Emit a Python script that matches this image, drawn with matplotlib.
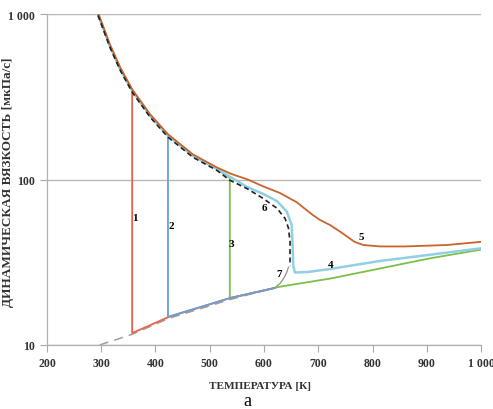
import matplotlib.pyplot as plt
from matplotlib.ticker import FixedLocator, NullLocator

plt.rcParams["font.family"] = ["Liberation Serif", "DejaVu Serif"]

# Common liquid branch (high viscosity side)
UPPER_T = [294, 316, 335, 357, 390, 423, 469, 513]
UPPER_ETA = [1000, 642, 466, 344, 243, 184, 139, 116]

# Gas branch (low viscosity side)
LOWER_T = [357, 425, 537, 629, 722, 814, 906, 1000]
LOWER_ETA = [11.8, 14.8, 19.2, 22.5, 25.2, 29.0, 33.4, 37.7]

# Curve 1: jump at 357 K
C1_T = UPPER_T[:4] + [357, 425, 537, 620]
C1_ETA = UPPER_ETA[:4] + [11.8, 14.8, 19.2, 22.1]

# Curve 2: jump at 423 K
C2_T = UPPER_T[:6] + [423, 537, 620]
C2_ETA = UPPER_ETA[:6] + [14.8, 19.2, 22.1]

# Curve 3: jump at 537 K
C3_T = UPPER_T + [537, 537] + LOWER_T[3:]
C3_ETA = UPPER_ETA + [102, 19.2] + LOWER_ETA[3:]

# Curve 4
C4_T = UPPER_T + [537, 569, 598, 624, 642, 651, 653, 654, 657, 680, 722, 814, 906, 1000]
C4_ETA = UPPER_ETA + [104, 90, 82, 74, 64, 53, 38, 30, 27.4, 27.6, 28.8, 32.2, 35.1, 38.4]

# Curve 5
C5_T = UPPER_T + [540, 570, 598, 629, 660, 690, 703, 722, 740, 752, 767, 783, 814, 860, 937, 1000]
C5_ETA = [v * 1.02 for v in UPPER_ETA] + [108, 100, 91, 83, 73, 61, 57, 53, 48.5, 45.5,
                                          42, 40.2, 39.4, 39.4, 40.2, 42]

# Curve 6 (dashed)
C6_T = UPPER_T + [537, 569, 598, 624, 639, 645, 648, 648, 648]
C6_ETA = [v * 0.98 for v in UPPER_ETA] + [99, 88, 77, 67, 58, 51, 42, 33, 30]

# Curve 7: extrapolated gas branch and its link to curve 6
C7_DASH_T = [297, 357, 425, 537, 620]
C7_DASH_ETA = [10, 11.6, 14.5, 18.8, 22.2]
C7_T = [620, 630, 637, 642, 645]
C7_ETA = [22.2, 23.6, 25.5, 27.5, 29.5]

LABELS = ["1", "2", "3", "4", "5", "6", "7"]
LABEL_T = [362, 429, 540, 722, 779, 600, 628]
LABEL_ETA = [59.3, 52.4, 41.3, 30.6, 45.0, 67.3, 26.9]

X_TICKS = [200, 300, 400, 500, 600, 700, 800, 900, 1000]
X_TICK_LABELS = ["200", "300", "400", "500", "600", "700", "800", "900", "1 000"]
Y_TICKS = [10, 100, 1000]
Y_TICK_LABELS = ["10", "100", "1 000"]

fig = plt.figure(figsize=(4.93, 4.10), dpi=100)
ax = fig.add_axes([0.0953, 0.1561, 0.8804, 0.8073])

lw = 1.3
ax.plot(C3_T, C3_ETA, color="#7dbf4a", lw=lw, zorder=3)
ax.plot(C7_DASH_T, C7_DASH_ETA, color="#a0a0a0", lw=1.1, ls=(0, (6, 4)), zorder=2)
ax.plot(C7_T, C7_ETA, color="#909090", lw=0.9, zorder=2)
ax.plot(C1_T, C1_ETA, color="#e8624c", lw=lw, zorder=4)
ax.plot(C2_T, C2_ETA, color="#6a9fd8", lw=lw, zorder=5)
ax.plot(C4_T, C4_ETA, color="#90d0e2", lw=1.8, zorder=6)
ax.plot(C5_T, C5_ETA, color="#c8642c", lw=lw, zorder=7)
ax.plot(C6_T, C6_ETA, color="#222222", lw=1.2, ls=(0, (3, 2)), zorder=8)

for text, t, eta in zip(LABELS, LABEL_T, LABEL_ETA):
    ax.text(t, eta, text, fontsize=8, fontweight="bold", ha="center", va="center", zorder=9)

ax.set_yscale("log")
ax.set_xlim(200, 1000)
ax.set_ylim(10, 1000)
ax.xaxis.set_major_locator(FixedLocator(X_TICKS))
ax.set_xticklabels(X_TICK_LABELS)
ax.yaxis.set_major_locator(FixedLocator(Y_TICKS))
ax.yaxis.set_minor_locator(NullLocator())
ax.set_yticklabels(Y_TICK_LABELS)
ax.tick_params(axis="both", labelsize=8.5, colors="#a8a8a8", labelcolor="#333333",
               length=5, width=0.8)
ax.tick_params(axis="x", pad=4)
for lab in ax.get_xticklabels() + ax.get_yticklabels():
    lab.set_fontweight("bold")

ax.grid(True, axis="y", color="#b8b8b8", lw=1.0)
ax.set_axisbelow(True)
for side in ("top", "right"):
    ax.spines[side].set_visible(False)
for side in ("left", "bottom"):
    ax.spines[side].set_color("#b0b0b0")
    ax.spines[side].set_linewidth(0.9)

ax.set_xlabel("ТЕМПЕРАТУРА [К]", fontsize=8.1, fontweight="bold", color="#333333")
ax.xaxis.set_label_coords(0.49, -0.109)
ax.set_ylabel("ДИНАМИЧЕСКАЯ ВЯЗКОСТЬ [мкПа/с]", fontsize=9.5, fontweight="bold",
              color="#333333")
ax.yaxis.set_label_coords(-0.077, 0.495)
fig.text(247 / 493, 1 - 402 / 410, "а", fontsize=13, ha="center", va="center")

fig.savefig("out.png", dpi=100)
